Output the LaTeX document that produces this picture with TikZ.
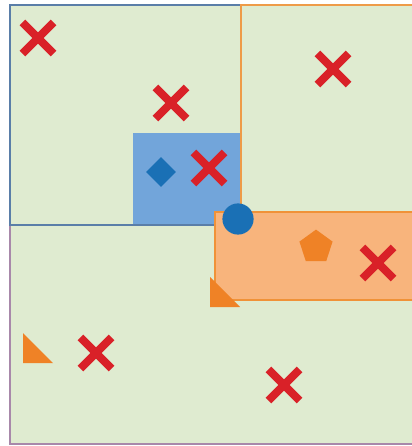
\documentclass[tikz,border=0pt]{standalone}
\usetikzlibrary{shapes.geometric, shapes.misc}
\definecolor{bggreen}{RGB}{223,235,208}
\definecolor{zoneblue}{RGB}{90,126,168}
\definecolor{zoneorange}{RGB}{238,155,72}
\definecolor{zonepurple}{RGB}{168,136,170}
\definecolor{cellblue}{RGB}{114,165,218}
\definecolor{cellorange}{RGB}{248,180,124}
\definecolor{edgeorange}{RGB}{240,146,56}
\definecolor{markblue}{RGB}{26,112,181}
\definecolor{markorange}{RGB}{239,130,38}
\definecolor{markred}{RGB}{217,33,40}

\begin{document}
\begin{tikzpicture}[
  x=0.025cm, y=-0.025cm,
  zone/.style={line width=0.05cm},
  crossmark/.style={cross out, draw=markred, line width=0.2cm, minimum size=0.58cm, inner sep=0pt},
  diamondmark/.style={diamond, fill=markblue, minimum width=0.75cm, minimum height=0.75cm, inner sep=0pt},
  pentamark/.style={regular polygon, regular polygon sides=5, fill=markorange, minimum size=0.87cm, inner sep=0pt},
  dotmark/.style={circle, fill=markblue, minimum size=0.78cm, inner sep=0pt}
]
  \useasboundingbox (0,0) rectangle (412,446);

  % Fondo y zonas
  \fill[bggreen] (10,5) rectangle (414,444);
  \draw[zone, draw=zonepurple] (10,225) rectangle (420,444);
  \fill[cellblue] (133,133) rectangle (240,225);
  \draw[zone, draw=zoneblue] (10,5) rectangle (241,225);
  \draw[zone, draw=zoneorange] (241,5) rectangle (420,212);
  \filldraw[zone, fill=cellorange, draw=edgeorange] (215,212) rectangle (420,300);

  % Triangulos
  \coordinate (tri1) at (210,307);
  \coordinate (tri2) at (23,363);
  \fill[markorange] (tri1) -- ++(0,-30) -- ++(30,30) -- cycle;
  \fill[markorange] (tri2) -- ++(0,-30) -- ++(30,30) -- cycle;

  % Marcas
  \node[diamondmark] (rombo) at (161,172) {};
  \node[pentamark] (penta) at (316,247) {};
  \node[dotmark] (punto) at (238,219) {};

  \node[crossmark] (x1) at (38,38) {};
  \node[crossmark] (x2) at (171,103) {};
  \node[crossmark] (x3) at (209,168) {};
  \node[crossmark] (x4) at (333,69) {};
  \node[crossmark] (x5) at (378,263) {};
  \node[crossmark] (x6) at (96,353) {};
  \node[crossmark] (x7) at (284,385) {};

\end{tikzpicture}
\end{document}
